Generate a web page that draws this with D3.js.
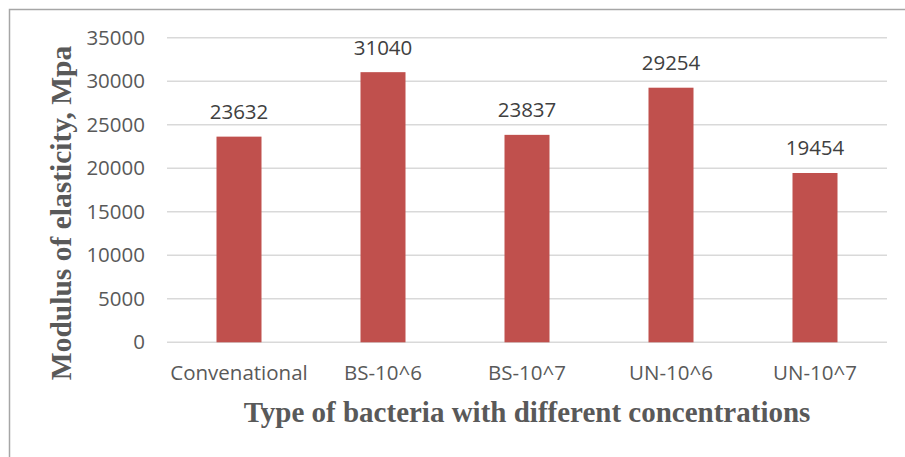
<!DOCTYPE html>
<html>
<head>
<meta charset="utf-8">
<script src="https://cdn.jsdelivr.net/npm/d3@7"></script>
<style>
  html, body { margin: 0; padding: 0; background: #fff; }
  svg { display: block; }
</style>
</head>
<body>
<svg id="chart" width="905" height="457"></svg>
<script>
// Modulus of elasticity for each bacteria type / concentration
const categories = ["Convenational", "BS-10^6", "BS-10^7", "UN-10^6", "UN-10^7"];
const modulus = [23632, 31040, 23837, 29254, 19454];
const yTicks = [0, 5000, 10000, 15000, 20000, 25000, 30000, 35000];

const svg = d3.select("#chart");
const W = 905, H = 457;
const plot = { left: 167, right: 887, top: 37.7, bottom: 342.3 };

// chart frame
svg.append("rect")
  .attr("x", 9.5).attr("y", 9.5)
  .attr("width", W + 20).attr("height", H + 20)
  .attr("fill", "#fff")
  .attr("stroke", "#a6a6a6").attr("stroke-width", 1.5);

const x = d3.scaleBand()
  .domain(categories)
  .range([plot.left, plot.right])
  .paddingInner(0.6875)
  .paddingOuter(0.34375);

const y = d3.scaleLinear()
  .domain([0, 35000])
  .range([plot.bottom, plot.top]);

// horizontal gridlines
svg.append("g")
  .selectAll("line")
  .data(yTicks)
  .join("line")
  .attr("x1", plot.left).attr("x2", plot.right)
  .attr("y1", d => y(d)).attr("y2", d => y(d))
  .attr("stroke", "#d9d9d9").attr("stroke-width", 1.6);

// y axis labels
const yAxis = d3.axisLeft(y).tickValues(yTicks).tickSize(0).tickPadding(0)
  .tickFormat(d3.format("d"));
svg.append("g")
  .attr("transform", `translate(145,0)`)
  .call(yAxis)
  .call(g => g.select(".domain").remove())
  .selectAll("text")
  .attr("fill", "#595959")
  .style("font-family", "'Open Sans', sans-serif")
  .style("font-size", "20.5px");

// x axis labels
const xAxis = d3.axisBottom(x).tickSize(0).tickPadding(0);
svg.append("g")
  .attr("transform", `translate(0,${plot.bottom})`)
  .call(xAxis)
  .call(g => g.select(".domain").remove())
  .selectAll("text")
  .attr("dy", null)
  .attr("y", 38)
  .attr("fill", "#595959")
  .style("font-family", "'Open Sans', sans-serif")
  .style("font-size", "20.5px");

// bars
svg.append("g")
  .selectAll("rect")
  .data(modulus)
  .join("rect")
  .attr("x", (d, i) => x(categories[i]))
  .attr("width", x.bandwidth())
  .attr("y", d => y(d))
  .attr("height", d => y(0) - y(d))
  .attr("fill", "#c0504d");

// value labels
svg.append("g")
  .selectAll("text")
  .data(modulus)
  .join("text")
  .attr("x", (d, i) => x(categories[i]) + x.bandwidth() / 2)
  .attr("y", d => y(d) - 17.5)
  .attr("text-anchor", "middle")
  .attr("fill", "#404040")
  .style("font-family", "'Open Sans', sans-serif")
  .style("font-size", "20.5px")
  .text(d => d);

// axis titles
svg.append("text")
  .attr("x", (plot.left + plot.right) / 2)
  .attr("y", 422)
  .attr("text-anchor", "middle")
  .attr("fill", "#595959")
  .style("font-family", "'Liberation Serif', 'Times New Roman', serif")
  .style("font-weight", "bold")
  .style("font-size", "29px")
  .text("Type of bacteria with different concentrations");

svg.append("text")
  .attr("transform", "translate(71,213) rotate(-90)")
  .attr("text-anchor", "middle")
  .attr("fill", "#595959")
  .style("font-family", "'Liberation Serif', 'Times New Roman', serif")
  .style("font-weight", "bold")
  .style("font-size", "29.5px")
  .text("Modulus of elasticity, Mpa");
</script>
</body>
</html>
